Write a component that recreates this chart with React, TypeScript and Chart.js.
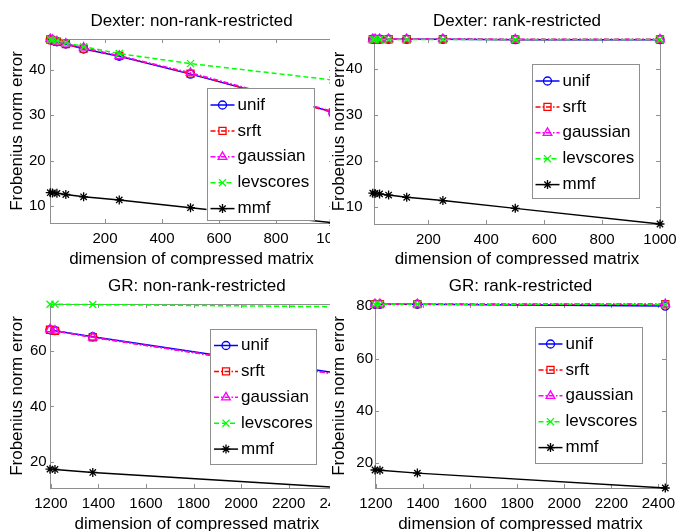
import React, { useEffect, useRef } from "react";
import { Chart, registerables } from "chart.js";

Chart.register(...registerables);

const FONT = '"Liberation Sans", Arial, Helvetica, sans-serif';
const AXIS_COLOR = "#8f8f8f";

// ---------- data ----------
const seriesNames = ["unif", "srft", "gaussian", "levscores", "mmf"];

const dexterSizes = [7.8125, 15.625, 31.25, 62.5, 125, 250, 500, 1000];
const dexterXTicks = [200, 400, 600, 800, 1000];
const dexterYTicks = [10, 20, 30, 40];

const dexterNonUnif = [46.6, 46.4, 46.1, 45.6, 44.5, 42.9, 39.0, 30.7];
const dexterNonSrft = [46.6, 46.4, 46.1, 45.6, 44.6, 43.0, 39.1, 30.6];
const dexterNonGaussian = [46.7, 46.5, 46.2, 45.7, 44.8, 43.0, 39.3, 30.8];
const dexterNonLevscores = [46.6, 46.5, 46.3, 45.9, 45.0, 43.5, 41.3, 37.7];
const dexterNonMmf = [13.0, 12.95, 12.85, 12.6, 12.1, 11.4, 9.7, 6.4];

const dexterRankUnif = [46.5, 46.5, 46.5, 46.5, 46.5, 46.5, 46.4, 46.4];
const dexterRankSrft = [46.5, 46.5, 46.5, 46.5, 46.5, 46.5, 46.45, 46.45];
const dexterRankGaussian = [46.55, 46.55, 46.55, 46.55, 46.55, 46.55, 46.5, 46.5];
const dexterRankLevscores = [46.45, 46.45, 46.45, 46.45, 46.45, 46.45, 46.45, 46.45];
const dexterRankMmf = [13.0, 12.95, 12.85, 12.6, 12.1, 11.4, 9.7, 6.3];

const grSizes = [1196, 1217, 1376, 2429];
const grXTicks = [1200, 1400, 1600, 1800, 2000, 2200, 2400];
const grNonYTicks = [20, 40, 60];
const grRankYTicks = [20, 40, 60, 80];

const grNonUnif = [67.6, 67.3, 65.1, 51.7];
const grNonSrft = [67.6, 67.2, 64.9, 51.2];
const grNonGaussian = [67.8, 67.3, 64.9, 51.2];
const grNonLevscores = [76.8, 76.8, 76.7, 75.9];
const grNonMmf = [17.4, 17.3, 16.2, 10.7];

const grRankUnif = [80.8, 80.8, 80.8, 80.1];
const grRankSrft = [80.85, 80.85, 80.85, 80.8];
const grRankGaussian = [80.9, 80.9, 80.9, 80.85];
const grRankLevscores = [80.8, 80.8, 80.8, 80.75];
const grRankMmf = [17.3, 17.2, 16.1, 10.4];

// ---------- styles ----------
const STYLES = [
  { color: "#0000ff", dash: [] as number[], point: "circle", radius: 4 },
  { color: "#ff0000", dash: [5, 2, 1.5, 2], point: "rect", radius: 5 },
  { color: "#ff00ff", dash: [5, 2, 1.5, 2], point: "triangle", radius: 5 },
  { color: "#00ff00", dash: [5, 3], point: "crossRot", radius: 5 },
  { color: "#000000", dash: [] as number[], point: "star", radius: 4.5 },
];

type Spec = {
  title: string;
  x: number[];
  series: number[][];
  xTicks: number[];
  yTicks: number[];
  xMin: number;
  xMax: number;
  yMin: number;
  yMax: number;
  cell: { left: number; top: number; width: number; height: number };
  origin: { x: number; y: number };
  W: number;
  H: number;
  area: { left: number; top: number; right: number; bottom: number };
  yTickPad: number;
  legend: { left: number; top: number; w: number; h: number };
};

const PANELS: Spec[] = [
  {
    title: "Dexter: non-rank-restricted",
    x: dexterSizes,
    series: [dexterNonUnif, dexterNonSrft, dexterNonGaussian, dexterNonLevscores, dexterNonMmf],
    xTicks: dexterXTicks,
    yTicks: dexterYTicks,
    xMin: 7,
    xMax: 1000,
    yMin: 6.35,
    yMax: 46.7,
    cell: { left: 0, top: 0, width: 330, height: 265 },
    origin: { x: 0, y: 0 },
    W: 345,
    H: 275,
    area: { left: 50, top: 39, right: 333, bottom: 223 },
    yTickPad: 4.3,
    legend: { left: 206.5, top: 88, w: 107, h: 132 },
  },
  {
    title: "Dexter: rank-restricted",
    x: dexterSizes,
    series: [dexterRankUnif, dexterRankSrft, dexterRankGaussian, dexterRankLevscores, dexterRankMmf],
    xTicks: dexterXTicks,
    yTicks: dexterYTicks,
    xMin: 12,
    xMax: 1000,
    yMin: 6.3,
    yMax: 46.55,
    cell: { left: 330, top: 0, width: 353, height: 265 },
    origin: { x: 322, y: 0 },
    W: 361,
    H: 275,
    area: { left: 52, top: 39, right: 338, bottom: 224 },
    yTickPad: 11.5,
    legend: { left: 209.5, top: 64, w: 107, h: 134 },
  },
  {
    title: "GR: non-rank-restricted",
    x: grSizes,
    series: [grNonUnif, grNonSrft, grNonGaussian, grNonLevscores, grNonMmf],
    xTicks: grXTicks,
    yTicks: grNonYTicks,
    xMin: 1196,
    xMax: 2432,
    yMin: 10.6,
    yMax: 76.9,
    cell: { left: 0, top: 265, width: 330, height: 266 },
    origin: { x: 0, y: 265 },
    W: 350,
    H: 275,
    area: { left: 50, top: 39, right: 344, bottom: 223 },
    yTickPad: 3.3,
    legend: { left: 210, top: 63.5, w: 106, h: 135 },
  },
  {
    title: "GR: rank-restricted",
    x: grSizes,
    series: [grRankUnif, grRankSrft, grRankGaussian, grRankLevscores, grRankMmf],
    xTicks: grXTicks,
    yTicks: grRankYTicks,
    xMin: 1196,
    xMax: 2432,
    yMin: 10.4,
    yMax: 80.9,
    cell: { left: 330, top: 265, width: 353, height: 266 },
    origin: { x: 322, y: 265 },
    W: 361,
    H: 275,
    area: { left: 53, top: 39, right: 344, bottom: 223 },
    yTickPad: 2,
    legend: { left: 212.5, top: 62, w: 107, h: 136 },
  },
];

function drawMarker(ctx: CanvasRenderingContext2D, style: string, x: number, y: number, r: number) {
  ctx.beginPath();
  if (style === "circle") {
    ctx.arc(x, y, r, 0, Math.PI * 2);
  } else if (style === "rect") {
    const s = r * Math.SQRT1_2;
    ctx.rect(x - s, y - s, 2 * s, 2 * s);
  } else if (style === "triangle") {
    const a = (2 * Math.PI) / 3;
    ctx.moveTo(x, y - r);
    ctx.lineTo(x + Math.sin(a) * r, y - Math.cos(a) * r);
    ctx.lineTo(x + Math.sin(2 * a) * r, y - Math.cos(2 * a) * r);
    ctx.closePath();
  } else if (style === "crossRot" || style === "star") {
    const d = r * Math.SQRT1_2;
    ctx.moveTo(x - d, y - d);
    ctx.lineTo(x + d, y + d);
    ctx.moveTo(x - d, y + d);
    ctx.lineTo(x + d, y - d);
    if (style === "star") {
      ctx.moveTo(x, y - r);
      ctx.lineTo(x, y + r);
      ctx.moveTo(x - r, y);
      ctx.lineTo(x + r, y);
    }
  }
  ctx.stroke();
}

function framePlugin(spec: Spec) {
  return {
    id: "matlabFrame",
    beforeDatasetsDraw(chart: any) {
      const { ctx, chartArea: a, scales } = chart;
      ctx.save();
      ctx.strokeStyle = AXIS_COLOR;
      ctx.lineWidth = 1;
      ctx.strokeRect(a.left + 0.5, a.top + 0.5, a.right - a.left, a.bottom - a.top);
      const TL = 4;
      ctx.beginPath();
      spec.xTicks.forEach((v) => {
        const px = Math.round(scales.x.getPixelForValue(v)) + 0.5;
        ctx.moveTo(px, a.bottom);
        ctx.lineTo(px, a.bottom - TL);
        ctx.moveTo(px, a.top);
        ctx.lineTo(px, a.top + TL);
      });
      spec.yTicks.forEach((v) => {
        const py = Math.round(scales.y.getPixelForValue(v)) + 0.5;
        ctx.moveTo(a.left, py);
        ctx.lineTo(a.left + TL, py);
        ctx.moveTo(a.right, py);
        ctx.lineTo(a.right - TL, py);
      });
      ctx.stroke();
      ctx.restore();
    },
    afterDatasetsDraw(chart: any) {
      const { ctx } = chart;
      const L = spec.legend;
      ctx.save();
      ctx.fillStyle = "#ffffff";
      ctx.fillRect(L.left, L.top, L.w, L.h);
      ctx.strokeStyle = AXIS_COLOR;
      ctx.lineWidth = 1;
      ctx.strokeRect(Math.round(L.left) + 0.5, Math.round(L.top) + 0.5, Math.round(L.w), Math.round(L.h));
      seriesNames.forEach((name, i) => {
        const st = STYLES[i];
        const y = L.top + 17 + i * 25.9;
        ctx.strokeStyle = st.color;
        ctx.lineWidth = 1.5;
        ctx.setLineDash(st.dash);
        ctx.beginPath();
        ctx.moveTo(L.left + 4, y);
        ctx.lineTo(L.left + 28, y);
        ctx.stroke();
        ctx.setLineDash([]);
        ctx.lineWidth = 1.3;
        drawMarker(ctx, st.point, L.left + 16, y, st.radius);
        ctx.fillStyle = "#000";
        ctx.font = `17px ${FONT}`;
        ctx.textAlign = "left";
        ctx.textBaseline = "middle";
        ctx.fillText(name, L.left + 31, y);
      });
      ctx.restore();
    },
    afterDraw(chart: any) {
      const { ctx, chartArea: a } = chart;
      ctx.save();
      ctx.fillStyle = "#000";
      ctx.font = `17px ${FONT}`;
      ctx.textAlign = "center";
      ctx.textBaseline = "alphabetic";
      ctx.fillText(spec.title, (a.left + a.right) / 2, 25.5);
      ctx.restore();
    },
  };
}

function Panel({ spec }: { spec: Spec }) {
  const ref = useRef<HTMLCanvasElement | null>(null);
  useEffect(() => {
    if (!ref.current) return;
    const datasets = seriesNames.map((name, i) => {
      const st = STYLES[i];
      return {
        label: name,
        data: spec.x.map((xv, j) => ({ x: xv, y: spec.series[i][j] })),
        borderColor: st.color,
        backgroundColor: st.color,
        borderWidth: 1.5,
        borderDash: st.dash,
        pointStyle: st.point,
        pointRadius: st.radius,
        pointBorderWidth: 1.3,
        pointBorderColor: st.color,
        pointBackgroundColor: "rgba(0,0,0,0)",
        fill: false,
        tension: 0,
        clip: false as any,
        order: seriesNames.length - i,
      };
    });
    const a = spec.area;
    const chart = new Chart(ref.current, {
      type: "line",
      data: { datasets: datasets as any },
      options: {
        responsive: false,
        animation: false,
        devicePixelRatio: 1,
        events: [],
        layout: { padding: { left: 0, top: a.top, right: spec.W - a.right, bottom: 0 } },
        plugins: {
          legend: { display: false },
          tooltip: { enabled: false },
          title: { display: false },
        },
        scales: {
          x: {
            type: "linear",
            position: "bottom",
            min: spec.xMin,
            max: spec.xMax,
            grid: { display: false, drawTicks: false },
            border: { display: false },
            ticks: {
              font: { family: FONT, size: 15 },
              color: "#000",
              padding: 7,
              maxRotation: 0,
              autoSkip: false,
              callback: (v: any) => String(v),
            },
            afterBuildTicks: (s: any) => {
              s.ticks = spec.xTicks.map((v) => ({ value: v }));
            },
            afterFit: (s: any) => {
              s.height = spec.H - a.bottom;
              s.paddingLeft = 0;
              s.paddingRight = 0;
            },
            title: {
              display: true,
              text: "dimension of compressed matrix",
              font: { family: FONT, size: 17 },
              color: "#000",
              padding: { top: 0, bottom: 5 },
            },
          },
          y: {
            type: "linear",
            position: "left",
            min: spec.yMin,
            max: spec.yMax,
            grid: { display: false, drawTicks: false },
            border: { display: false },
            ticks: {
              font: { family: FONT, size: 15 },
              color: "#000",
              padding: spec.yTickPad,
              autoSkip: false,
              callback: (v: any) => String(v),
            },
            afterBuildTicks: (s: any) => {
              s.ticks = spec.yTicks.map((v) => ({ value: v }));
            },
            afterFit: (s: any) => {
              s.width = a.left;
              s.paddingTop = 0;
              s.paddingBottom = 0;
            },
            title: {
              display: true,
              text: "Frobenius norm error",
              font: { family: FONT, size: 17 },
              color: "#000",
              padding: { top: 7.3, bottom: 0 },
            },
          },
        },
      } as any,
      plugins: [framePlugin(spec) as any],
    });
    return () => chart.destroy();
  }, [spec]);

  const c = spec.cell;
  return (
    <div
      style={{
        position: "absolute",
        left: c.left,
        top: c.top,
        width: c.width,
        height: c.height,
        overflow: "hidden",
        background: "#fff",
      }}
    >
      <canvas
        ref={ref}
        width={spec.W}
        height={spec.H}
        style={{
          position: "absolute",
          left: spec.origin.x - c.left,
          top: spec.origin.y - c.top,
          width: spec.W,
          height: spec.H,
          display: "block",
        }}
      />
    </div>
  );
}

export default function App() {
  return (
    <div
      style={{
        position: "fixed",
        left: 0,
        top: 0,
        width: 683,
        height: 531,
        background: "#fff",
        overflow: "hidden",
      }}
    >
      {PANELS.map((p, i) => (
        <Panel key={i} spec={p} />
      ))}
    </div>
  );
}
